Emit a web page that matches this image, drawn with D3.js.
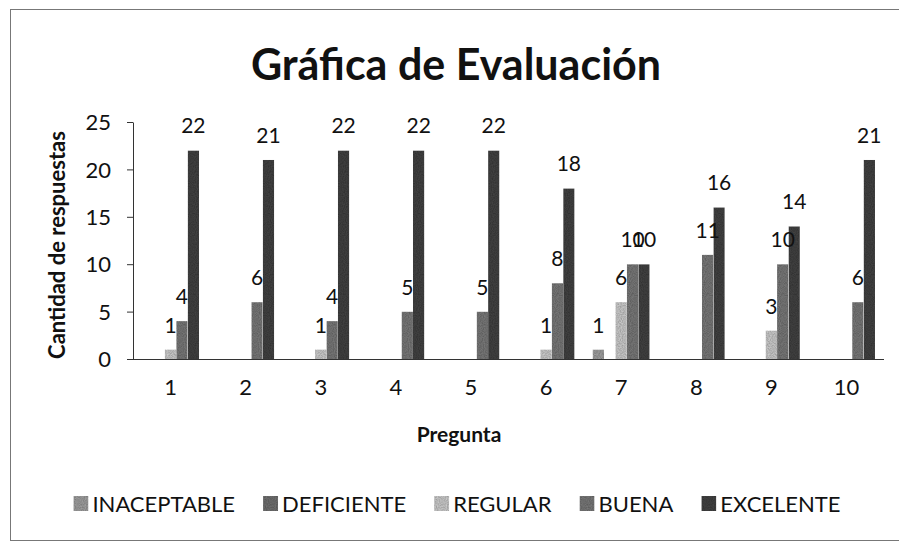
<!DOCTYPE html>
<html>
<head>
<meta charset="utf-8">
<script src="https://cdn.jsdelivr.net/npm/d3@7"></script>
<style>
    body { margin: 0; background: #fff; }
    svg text { font-family: Lato, "Open Sans", sans-serif; fill: #111; }
</style>
</head>
<body>
<svg id="main-svg" width="899" height="542"></svg>
<script>
(function() {

    // preguntas
    var preguntas = ["1", "2", "3", "4", "5", "6", "7", "8", "9", "10"];

    // series
    var series = ["INACEPTABLE", "DEFICIENTE", "REGULAR", "BUENA", "EXCELENTE"];

    var inaceptable = [0, 0, 0, 0, 0, 0, 1, 0, 0, 0];
    var deficiente  = [0, 0, 0, 0, 0, 0, 0, 0, 0, 0];
    var regular     = [1, 0, 1, 0, 0, 1, 6, 0, 3, 0];
    var buena       = [4, 6, 4, 5, 5, 8, 10, 11, 10, 6];
    var excelente   = [22, 21, 22, 22, 22, 18, 10, 16, 14, 21];

    var yTicks = [0, 5, 10, 15, 20, 25];

    var colors = ["#a4a4a4", "#747474", "#d0d0d0", "#7c7c7c", "#444444"];

    var values = [inaceptable, deficiente, regular, buena, excelente];

    var svg = d3.select("#main-svg");

    // grain, the original is a scan
    var filter = svg.append("defs")
    .append("filter")
    .attr("id", "grain")
    .attr("x", 0).attr("y", 0).attr("width", 1).attr("height", 1);

    filter.append("feTurbulence")
    .attr("type", "fractalNoise")
    .attr("baseFrequency", 0.9)
    .attr("numOctaves", 1)
    .attr("seed", 3)
    .attr("result", "noise");

    filter.append("feColorMatrix")
    .attr("in", "noise")
    .attr("type", "matrix")
    .attr("values", "0 0 0 0 0.55  0 0 0 0 0.55  0 0 0 0 0.55  1.6 0 0 0 -0.2")
    .attr("result", "speck");

    filter.append("feBlend")
    .attr("in", "SourceGraphic")
    .attr("in2", "speck")
    .attr("mode", "multiply")
    .attr("result", "mix");

    filter.append("feComposite")
    .attr("in", "mix")
    .attr("in2", "SourceGraphic")
    .attr("operator", "in");

    // chart border (scan cuts it on the right)
    svg.append("rect")
    .attr("x", 10.5)
    .attr("y", 9.5)
    .attr("width", 920)
    .attr("height", 531)
    .attr("fill", "none")
    .attr("stroke", "#777")
    .attr("stroke-width", 1);

    var left = 133, right = 884, top = 122, bottom = 359;

    var x0 = d3.scaleBand()
    .domain(preguntas)
    .range([left, right])
    .paddingInner(0.24)
    .paddingOuter(0.12);

    var x1 = d3.scaleBand()
    .domain(series)
    .range([0, x0.bandwidth()]);

    var y = d3.scaleLinear()
    .domain([0, 25])
    .range([bottom, top]);

    // title
    svg.append("text")
    .attr("x", 456)
    .attr("y", 80)
    .attr("text-anchor", "middle")
    .style("font-size", "43px")
    .style("font-weight", "bold")
    .text("Gráfica de Evaluación");

    // bars
    var rows = preguntas.map(function(p, i) {
        return series.map(function(s, j) {
            return {pregunta: p, serie: s, value: values[j][i], color: colors[j]};
        });
    });

    var groups = svg.selectAll(".grupo")
    .data(rows)
    .enter()
    .append("svg:g")
    .classed("grupo", true)
    .attr("transform", function(row) {
        return "translate(" + x0(row[0].pregunta) + ",0)";
    });

    groups.selectAll("rect")
    .data(function(row) { return row; })
    .enter()
    .append("svg:rect")
    .attr("x", function(d) { return x1(d.serie); })
    .attr("y", function(d) { return y(d.value); })
    .attr("width", x1.bandwidth())
    .attr("height", function(d) { return y(0) - y(d.value); })
    .attr("fill", function(d) { return d.color; })
    .attr("filter", "url(#grain)");

    groups.selectAll("text")
    .data(function(row) {
        return row.filter(function(d) { return d.value > 0; });
    })
    .enter()
    .append("svg:text")
    .attr("x", function(d) { return x1(d.serie) + x1.bandwidth() / 2; })
    .attr("y", function(d) { return y(d.value) - 17; })
    .attr("text-anchor", "middle")
    .style("font-size", "21px")
    .text(function(d) { return d.value; });

    // y axis
    var yAxis = svg.append("g")
    .attr("transform", "translate(" + left + ",0)")
    .call(d3.axisLeft(y).tickValues(yTicks).tickSize(6).tickSizeOuter(0).tickPadding(16));

    yAxis.selectAll("text")
    .style("font-size", "22px")
    .attr("dy", "0.35em");

    yAxis.selectAll("line, path").attr("stroke", "#333");

    // x axis
    var xAxis = svg.append("g")
    .attr("transform", "translate(0," + bottom + ")")
    .call(d3.axisBottom(x0).tickSize(0).tickPadding(20));

    xAxis.selectAll("text")
    .style("font-size", "22px");

    xAxis.select("path")
    .attr("stroke", "#333")
    .attr("d", "M" + left + ",0.5H" + right);

    // axis titles
    svg.append("text")
    .attr("transform", "translate(65,245) rotate(-90)")
    .attr("text-anchor", "middle")
    .style("font-size", "22px")
    .style("font-weight", "bold")
    .text("Cantidad de respuestas");

    svg.append("text")
    .attr("x", 459)
    .attr("y", 442)
    .attr("text-anchor", "middle")
    .style("font-size", "21px")
    .style("font-weight", "bold")
    .text("Pregunta");

    // legend
    var legend = svg.append("g");
    var lx = 0;
    series.forEach(function(s, j) {
        var item = legend.append("g").attr("transform", "translate(" + lx + ",0)");
        item.append("rect")
        .attr("x", 0)
        .attr("y", -16)
        .attr("width", 15)
        .attr("height", 15)
        .attr("fill", colors[j])
        .attr("filter", "url(#grain)");
        var t = item.append("text")
        .attr("x", 19)
        .attr("y", 0)
        .style("font-size", "22px")
        .text(s);
        lx += 19 + t.node().getComputedTextLength() + 28;
    });
    var lw = lx - 28;
    legend.attr("transform", "translate(" + (457 - lw / 2) + ",512)");

})();
</script>
</body>
</html>
